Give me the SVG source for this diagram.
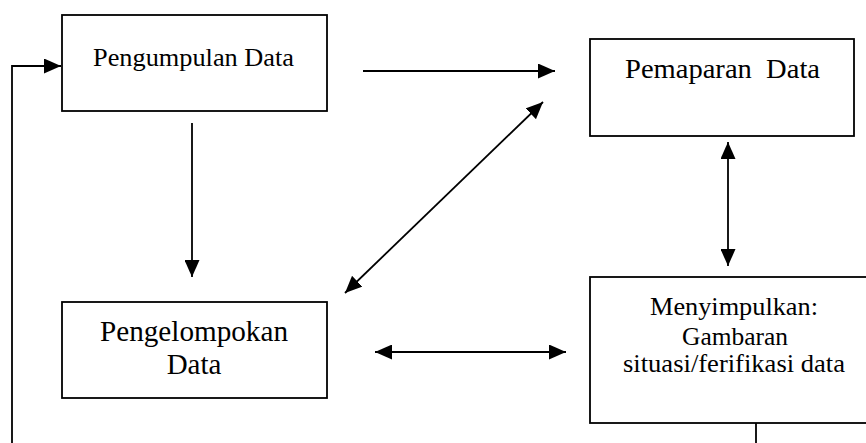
<svg xmlns="http://www.w3.org/2000/svg" width="866" height="443" viewBox="0 0 866 443">
<style>
.box{fill:#fff;stroke:#000;stroke-width:1.8}
.t{font-family:"Liberation Serif","Times New Roman",serif;fill:#000;text-anchor:middle;white-space:pre}
.c{fill:none;stroke:#000;stroke-width:1.8}
</style>
<defs>
<marker id="ah" viewBox="0 0 17 15" refX="17" refY="7.5" markerWidth="17" markerHeight="15" markerUnits="userSpaceOnUse" orient="auto-start-reverse">
<path d="M0,0 L17,7.5 L0,15 z" fill="#000"/>
</marker>
</defs>
<rect width="866" height="443" fill="#fff"/>
<g id="n1">
<rect class="box" x="62" y="15" width="265" height="96"/>
<text class="t" x="193.5" y="66" font-size="25.5" textLength="201" lengthAdjust="spacingAndGlyphs">Pengumpulan Data</text>
</g>
<g id="n2">
<rect class="box" x="590" y="39" width="264" height="97"/>
<text class="t" x="722.5" y="78" font-size="28" textLength="195" lengthAdjust="spacingAndGlyphs" xml:space="preserve">Pemaparan  Data</text>
</g>
<g id="n3">
<rect class="box" x="62" y="302" width="265" height="96"/>
<text class="t" x="194" y="341" font-size="29" textLength="188" lengthAdjust="spacingAndGlyphs">Pengelompokan</text>
<text class="t" x="194" y="374" font-size="29">Data</text>
</g>
<g id="n4">
<rect class="box" x="590" y="277" width="290" height="146"/>
<text class="t" x="734" y="315" font-size="26" textLength="168" lengthAdjust="spacingAndGlyphs">Menyimpulkan:</text>
<text class="t" x="735" y="345" font-size="26" textLength="106" lengthAdjust="spacingAndGlyphs">Gambaran</text>
<text class="t" x="734" y="372" font-size="26" textLength="222" lengthAdjust="spacingAndGlyphs">situasi/ferifikasi data</text>
</g>
<g id="connectors">
<line class="c" x1="363" y1="71" x2="555" y2="71" marker-end="url(#ah)"/>
<line class="c" x1="192" y1="123" x2="192" y2="277" marker-end="url(#ah)"/>
<line class="c" x1="345" y1="293" x2="543" y2="102" marker-start="url(#ah)" marker-end="url(#ah)"/>
<line class="c" x1="728" y1="142" x2="728" y2="266" marker-start="url(#ah)" marker-end="url(#ah)"/>
<line class="c" x1="375" y1="352" x2="566" y2="352" marker-start="url(#ah)" marker-end="url(#ah)"/>
<polyline class="c" points="12,443 12,66 61,66" marker-end="url(#ah)"/>
<line class="c" x1="756" y1="423" x2="756" y2="443"/>
</g>
</svg>
